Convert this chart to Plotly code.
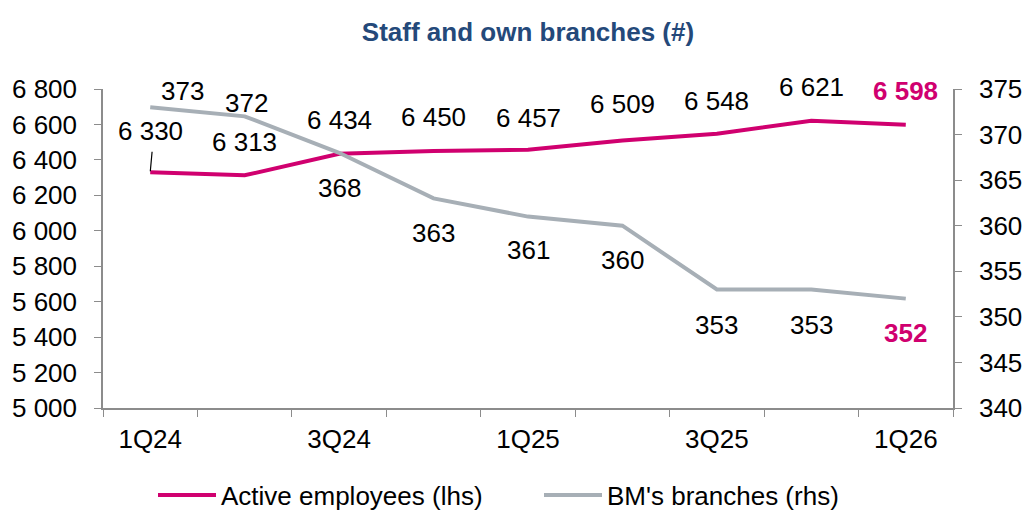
import plotly.graph_objects as go

quarters = ["1Q24", "2Q24", "3Q24", "4Q24", "1Q25", "2Q25", "3Q25", "4Q25", "1Q26"]
tick_labels = ["1Q24", "", "3Q24", "", "1Q25", "", "3Q25", "", "1Q26"]
employees = [6330, 6313, 6434, 6450, 6457, 6509, 6548, 6621, 6598]
branches = [373, 372, 368, 363, 361, 360, 353, 353, 352]

PINK = "#D0006F"
GREY = "#A7AFB6"
AXIS = "#8C8C8C"
FONT = "Liberation Sans, Arial, sans-serif"
FS = 26

# label offsets (pixels) - style only
emp_yshift = [41, 33, 34, 34, 32, 37, 33, 34, 34]
br_yshift = [16, 13, -35, -35, -33, -34, -35, -35, -34]
br_xshift = [32, 2, 0, 0, 0, 0, 0, 0, 0]

def fmt(v):
    return f"{v:,}".replace(",", " ")

fig = go.Figure()
fig.add_trace(go.Scatter(x=quarters, y=employees, mode="lines", name="Active employees (lhs)",
                         line=dict(color=PINK, width=4), yaxis="y", hoverinfo="skip"))
fig.add_trace(go.Scatter(x=quarters, y=branches, mode="lines", name="BM's branches (rhs)",
                         line=dict(color=GREY, width=4), yaxis="y2", hoverinfo="skip"))

annotations = []
n = len(quarters)
for i, (q, v) in enumerate(zip(quarters, employees)):
    last = i == n - 1
    annotations.append(dict(
        x=q, y=v, xref="x", yref="y", text=f"<b>{fmt(v)}</b>" if last else fmt(v),
        showarrow=False, yshift=emp_yshift[i],
        font=dict(size=FS, color=PINK if last else "black", family=FONT)))
# leader line for first label
annotations.append(dict(x=quarters[0], y=employees[0], xref="x", yref="y", text="",
                        showarrow=True, arrowhead=0, arrowwidth=1.2, arrowcolor="black",
                        ax=2, ay=-22, standoff=1))
for i, (q, v) in enumerate(zip(quarters, branches)):
    last = i == n - 1
    annotations.append(dict(
        x=q, y=v, xref="x", yref="y2", text=f"<b>{v}</b>" if last else str(v),
        showarrow=False, yshift=br_yshift[i], xshift=br_xshift[i],
        font=dict(size=FS, color=PINK if last else "black", family=FONT)))

fig.update_layout(
    width=1024, height=510,
    margin=dict(l=103, r=71, t=89, b=102, autoexpand=False),
    plot_bgcolor="white", paper_bgcolor="white",
    separators=", ",
    font=dict(family=FONT, size=FS, color="black"),
    title=dict(text="<b>Staff and own branches (#)</b>", x=0.5, xanchor="center",
               xref="paper", yref="container", y=1 - 32 / 510, yanchor="middle",
               font=dict(size=FS, color="#24497A", family=FONT)),
    xaxis=dict(type="category", tickmode="array", tickvals=quarters, ticktext=tick_labels,
               tickson="boundaries", ticks="outside", ticklen=7, tickcolor=AXIS,
               showline=True, linecolor=AXIS, linewidth=1.5, showgrid=False,
               range=[-0.5, 8.5], tickfont=dict(size=FS), zeroline=False,
               ticklabelstandoff=7),
    yaxis=dict(range=[5000, 6800], dtick=200, tickformat=",d", ticks="outside", ticklen=7,
               tickcolor=AXIS, showline=True, linecolor=AXIS, linewidth=1.5,
               showgrid=False, zeroline=False, tickfont=dict(size=FS), ticklabelstandoff=12),
    yaxis2=dict(range=[340, 375], dtick=5, overlaying="y", side="right", ticks="outside",
                ticklen=7, tickcolor=AXIS, showline=True, linecolor=AXIS, linewidth=1.5,
                showgrid=False, zeroline=False, tickfont=dict(size=FS), ticklabelstandoff=12),
    legend=dict(orientation="h", xref="container", x=153 / 1024, xanchor="left",
                yref="container", y=1 - 495 / 510, yanchor="middle",
                font=dict(size=FS), itemwidth=58, entrywidth=313),
    annotations=annotations,
    showlegend=True,
)

fig.write_html("out.html", config={"displayModeBar": False},
               post_script="document.body.style.margin='0';document.body.style.overflow='hidden';")
